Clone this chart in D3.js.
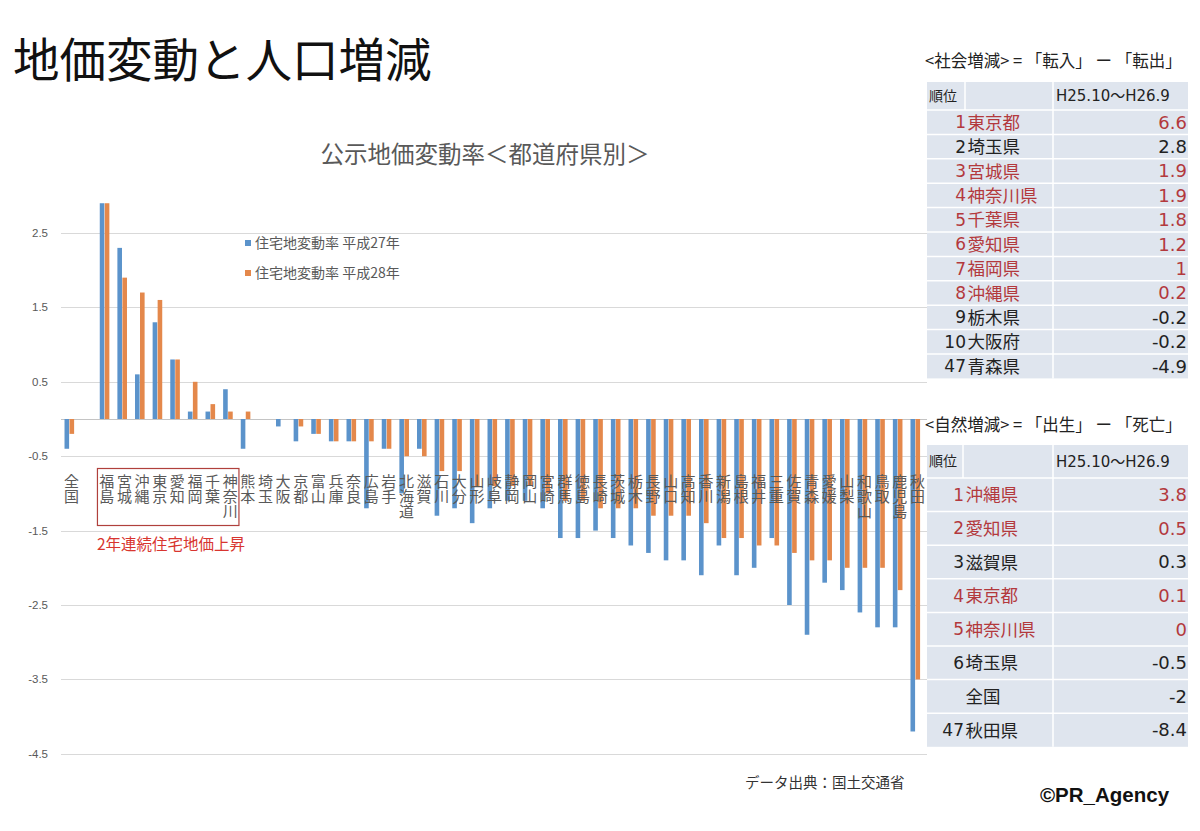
<!DOCTYPE html>
<html lang="ja">
<head>
<meta charset="utf-8">
<script src="https://cdn.jsdelivr.net/npm/d3@7"></script>
<style>
  html, body { margin: 0; padding: 0; background: #fff; }
  svg { display: block; font-family: "Noto Sans CJK JP", "Noto Sans", sans-serif; }
  .vlabel { writing-mode: vertical-rl; text-orientation: upright; }
</style>
</head>
<body>
<div id="chart"></div>
<script>
// Chart data
const categories = ["全国", "", "福島", "宮城", "沖縄", "東京", "愛知", "福岡", "千葉", "神奈川",
  "熊本", "埼玉", "大阪", "京都", "富山", "兵庫", "奈良", "広島", "岩手", "北海道",
  "滋賀", "石川", "大分", "山形", "岐阜", "静岡", "岡山", "宮崎", "群馬", "徳島",
  "長崎", "茨城", "栃木", "長野", "山口", "高知", "香川", "新潟", "島根", "福井",
  "三重", "佐賀", "青森", "愛媛", "山梨", "和歌山", "鳥取", "鹿児島", "秋田"];
const rateH27 = [-0.4, null, 2.9, 2.3, 0.6, 1.3, 0.8, 0.1, 0.1, 0.4,
  -0.4, 0, -0.1, -0.3, -0.2, -0.3, -0.3, -1.2, -0.4, -1.0,
  -0.4, -1.3, -1.2, -1.4, -1.2, -1.1, -1.1, -1.2, -1.6, -1.6,
  -1.5, -1.6, -1.7, -1.8, -1.9, -1.9, -2.1, -1.7, -2.1, -2.0,
  -1.6, -2.5, -2.9, -2.2, -2.3, -2.6, -2.8, -2.8, -4.2];
const rateH28 = [-0.2, null, 2.9, 1.9, 1.7, 1.6, 0.8, 0.5, 0.2, 0.1,
  0.1, 0, 0, -0.1, -0.2, -0.3, -0.3, -0.3, -0.4, -0.5,
  -0.5, -0.7, -0.7, -0.9, -0.9, -0.9, -0.9, -1.0, -1.1, -1.1,
  -1.2, -1.2, -1.2, -1.3, -1.3, -1.3, -1.4, -1.6, -1.6, -1.7,
  -1.7, -1.8, -1.9, -1.9, -2.0, -2.0, -2.0, -2.3, -3.5];
const seriesNames = ["住宅地変動率 平成27年", "住宅地変動率 平成28年"];
const yTicks = [2.5, 1.5, 0.5, -0.5, -1.5, -2.5, -3.5, -4.5];

// prefectures with two years of rising residential land prices
const risingPrefs = ["福島", "宮城", "沖縄", "東京", "愛知", "福岡", "千葉", "神奈川"];

// <社会増減> table
const socialRank = ["1", "2", "3", "4", "5", "6", "7", "8", "9", "10", "47"];
const socialPref = ["東京都", "埼玉県", "宮城県", "神奈川県", "千葉県", "愛知県", "福岡県", "沖縄県", "栃木県", "大阪府", "青森県"];
const socialValue = ["6.6", "2.8", "1.9", "1.9", "1.8", "1.2", "1", "0.2", "-0.2", "-0.2", "-4.9"];

// <自然増減> table
const naturalRank = ["1", "2", "3", "4", "5", "6", "", "47"];
const naturalPref = ["沖縄県", "愛知県", "滋賀県", "東京都", "神奈川県", "埼玉県", "全国", "秋田県"];
const naturalValue = ["3.8", "0.5", "0.3", "0.1", "0", "-0.5", "-2", "-8.4"];

const W = 1200, H = 831;
const blue = "#5b93cb", orange = "#e4884b";
const grey = "#595959", red = "#b3393d";

const svg = d3.select("#chart").append("svg").attr("width", W).attr("height", H);
svg.append("rect").attr("width", W).attr("height", H).attr("fill", "#fff");

const x = d3.scaleBand().domain(categories.map((d, i) => i)).range([60.7, 924.3]);
const xInner = d3.scaleBand().domain([0, 1]).range([-5, 4.6]).paddingInner(0.08);
const y = d3.scaleLinear().domain([-4.5, 3]).range([753.8, 195.8]);

// titles
svg.append("text").attr("x", 13).attr("y", 77)
  .attr("font-size", 46.5).attr("fill", "#111").text("地価変動と人口増減");
svg.append("text").attr("x", 485).attr("y", 163).attr("text-anchor", "middle")
  .attr("font-size", 23.5).attr("fill", grey).text("公示地価変動率＜都道府県別＞");

// grid
svg.append("g").selectAll("line").data(yTicks).join("line")
  .attr("x1", 61).attr("x2", 927)
  .attr("y1", d => Math.round(y(d)) + 0.5).attr("y2", d => Math.round(y(d)) + 0.5)
  .attr("stroke", "#d9d9d9");
svg.append("line").attr("x1", 61).attr("x2", 927)
  .attr("y1", Math.round(y(0)) + 0.5).attr("y2", Math.round(y(0)) + 0.5)
  .attr("stroke", "#c4c4c4");

// y axis labels
svg.append("g").selectAll("text").data(yTicks).join("text")
  .attr("x", 48).attr("y", d => y(d)).attr("dy", "0.35em")
  .attr("text-anchor", "end").attr("font-size", 11.5)
  .attr("font-family", "Liberation Sans, Arial, sans-serif")
  .attr("fill", grey).text(d => d);

// bars
const barData = [];
categories.forEach((c, i) => {
  [rateH27[i], rateH28[i]].forEach((v, s) => {
    if (v !== null && v !== 0) barData.push({ i, s, v });
  });
});
svg.append("g").selectAll("rect").data(barData).join("rect")
  .attr("x", d => x(d.i) + x.bandwidth() / 2 + xInner(d.s))
  .attr("width", xInner.bandwidth())
  .attr("y", d => y(Math.max(0, d.v)))
  .attr("height", d => Math.abs(y(d.v) - y(0)))
  .attr("fill", d => d.s === 0 ? blue : orange);

// vertical category labels
svg.append("g").attr("font-size", 15).attr("fill", grey)
  .selectAll("text").data(categories.map((c, i) => ({ c, i })).filter(d => d.c))
  .join("text")
  .attr("class", "vlabel")
  .attr("x", d => x(d.i) + x.bandwidth() / 2 + 2)
  .attr("y", 474)
  .text(d => d.c);

// legend
const legend = svg.append("g").attr("font-size", 14).attr("fill", grey);
seriesNames.forEach((name, s) => {
  legend.append("rect").attr("x", 245).attr("y", 240 + s * 30).attr("width", 6).attr("height", 6)
    .attr("fill", s === 0 ? blue : orange);
  legend.append("text").attr("x", 255).attr("y", 243 + s * 30).attr("dy", "0.35em").text(name);
});

// highlight box
const firstRise = categories.indexOf(risingPrefs[0]);
const lastRise = categories.indexOf(risingPrefs[risingPrefs.length - 1]);
svg.append("rect")
  .attr("x", x(firstRise) + 1.5).attr("y", 468.5)
  .attr("width", x(lastRise) + x.bandwidth() + 2 - x(firstRise) - 1.5).attr("height", 57)
  .attr("fill", "none").attr("stroke", "#b0403c").attr("stroke-width", 1.2);
svg.append("text").attr("x", 97).attr("y", 545).attr("dy", "0.35em")
  .attr("font-size", 15.5).attr("fill", "#d8352f").text("2年連続住宅地価上昇");

// footer
svg.append("text").attr("x", 745).attr("y", 783).attr("dy", "0.35em")
  .attr("font-size", 14.5).attr("fill", "#333").text("データ出典：国土交通省");
svg.append("text").attr("x", 1040).attr("y", 795).attr("dy", "0.35em")
  .attr("font-size", 20.5).attr("font-weight", "bold")
  .attr("font-family", "Liberation Sans, Arial, sans-serif")
  .attr("fill", "#111").text("©PR_Agency");

// ranking tables
function isRising(pref) {
  return risingPrefs.some(p => pref.replace(/[都府県]$/, "") === p);
}

function drawTable(opts) {
  const { top, headerH, rowH, heading, headingY, rank, pref, value, rankX, splitX } = opts;
  const left = 927, right = 1188, valSplit = 1053;
  const g = svg.append("g");
  g.append("text").attr("x", 925).attr("y", headingY).attr("dy", "0.35em")
    .attr("font-size", 16.5).attr("fill", "#222").text(heading);
  const bottom = top + headerH + rowH * rank.length;
  g.append("rect").attr("x", left).attr("y", top).attr("width", right - left).attr("height", bottom - top)
    .attr("fill", "#dfe5ee");
  // separators
  const rowYs = d3.range(rank.length).map(k => top + headerH + k * rowH);
  g.selectAll("line.row").data(rowYs).join("line")
    .attr("x1", left).attr("x2", right).attr("y1", d => d).attr("y2", d => d)
    .attr("stroke", "#fff").attr("stroke-width", 1.5);
  g.append("line").attr("x1", valSplit).attr("x2", valSplit).attr("y1", top).attr("y2", bottom)
    .attr("stroke", "#fff").attr("stroke-width", 1.5);
  g.append("line").attr("x1", splitX).attr("x2", splitX).attr("y1", top).attr("y2", top + headerH)
    .attr("stroke", "#fff").attr("stroke-width", 1.5);
  // header
  g.append("text").attr("x", 929).attr("y", top + headerH / 2).attr("dy", "0.35em")
    .attr("font-size", 14).attr("fill", "#222").text("順位");
  g.append("text").attr("x", 1056).attr("y", top + headerH / 2).attr("dy", "0.35em")
    .attr("font-size", 15).attr("font-family", "DejaVu Sans, Noto Sans CJK JP, sans-serif")
    .attr("fill", "#222").text("H25.10〜H26.9");
  rank.forEach((r, k) => {
    const cy = top + headerH + k * rowH + rowH / 2;
    const col = isRising(pref[k]) ? red : "#222";
    g.append("text").attr("x", rankX).attr("y", cy).attr("dy", "0.35em")
      .attr("text-anchor", "end").attr("font-size", 17)
      .attr("font-family", "DejaVu Sans, sans-serif").attr("fill", col).text(r);
    g.append("text").attr("x", rankX + 1.5).attr("y", cy).attr("dy", "0.38em")
      .attr("font-size", 17.5).attr("fill", col).text(pref[k]);
    g.append("text").attr("x", 1187).attr("y", cy).attr("dy", "0.35em")
      .attr("text-anchor", "end").attr("font-size", 18)
      .attr("font-family", "DejaVu Sans, sans-serif").attr("fill", col).text(value[k]);
  });
}

drawTable({
  top: 82, headerH: 28, rowH: 24.4, heading: "<社会増減> = 「転入」 ー 「転出」", headingY: 61,
  rank: socialRank, pref: socialPref, value: socialValue, rankX: 966, splitX: 965
});
drawTable({
  top: 445, headerH: 33, rowH: 33.6, heading: "<自然増減> = 「出生」 ー 「死亡」", headingY: 425,
  rank: naturalRank, pref: naturalPref, value: naturalValue, rankX: 964, splitX: 963
});
</script>
</body>
</html>
